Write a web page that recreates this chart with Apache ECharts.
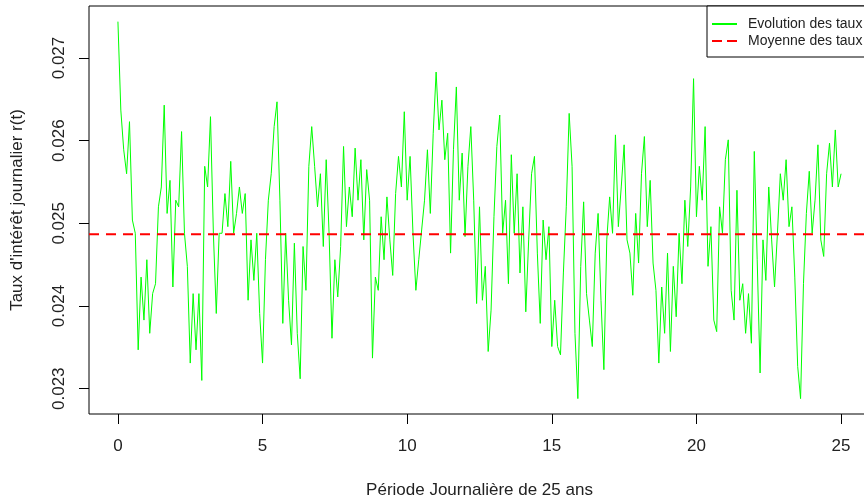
<!DOCTYPE html>
<html>
<head>
<meta charset="utf-8">
<title>Taux d'intérêt journalier</title>
<script src="https://cdn.jsdelivr.net/npm/echarts@6/dist/echarts.min.js"></script>
<style>
	html, body { margin: 0; padding: 0; background: #fff; }
	#chart { width: 864px; height: 501px; }
</style>
</head>
<body>
<div id="chart"></div>
<script type="text/javascript">
// taux, un point tous les 0.1 an (0 -> 25 ans)
var rate = [
	0.02744, 0.02637, 0.02589, 0.02560, 0.02623, 0.02504, 0.02488, 0.02347, 0.02435, 0.02383,
	0.02456, 0.02367, 0.02415, 0.02427, 0.02520, 0.02544, 0.02643, 0.02512, 0.02552, 0.02423,
	0.02528, 0.02520, 0.02611, 0.02488, 0.02448, 0.02331, 0.02415, 0.02347, 0.02415, 0.02310,
	0.02569, 0.02544, 0.02629, 0.02488, 0.02391, 0.02488, 0.02488, 0.02536, 0.02496, 0.02575,
	0.02488, 0.02512, 0.02544, 0.02512, 0.02536, 0.02407, 0.02480, 0.02431, 0.02488, 0.02391,
	0.02331, 0.02456, 0.02528, 0.02560, 0.02617, 0.02647, 0.02528, 0.02379, 0.02488, 0.02407,
	0.02353, 0.02476, 0.02367, 0.02312, 0.02472, 0.02419, 0.02569, 0.02617, 0.02569, 0.02520,
	0.02560, 0.02472, 0.02577, 0.02488, 0.02361, 0.02456, 0.02411, 0.02472, 0.02593, 0.02496,
	0.02544, 0.02508, 0.02591, 0.02528, 0.02577, 0.02480, 0.02565, 0.02528, 0.02337, 0.02435,
	0.02419, 0.02508, 0.02456, 0.02532, 0.02480, 0.02437, 0.02536, 0.02581, 0.02544, 0.02635,
	0.02528, 0.02581, 0.02488, 0.02419, 0.02456, 0.02492, 0.02528, 0.02589, 0.02512, 0.02609,
	0.02683, 0.02613, 0.02649, 0.02577, 0.02609, 0.02464, 0.02589, 0.02665, 0.02528, 0.02585,
	0.02484, 0.02569, 0.02617, 0.02528, 0.02403, 0.02520, 0.02407, 0.02448, 0.02345, 0.02395,
	0.02508, 0.02593, 0.02631, 0.02488, 0.02528, 0.02427, 0.02583, 0.02488, 0.02560, 0.02440,
	0.02520, 0.02393, 0.02480, 0.02560, 0.02581, 0.02464, 0.02379, 0.02504, 0.02456, 0.02496,
	0.02351, 0.02407, 0.02351, 0.02341, 0.02440, 0.02520, 0.02633, 0.02569, 0.02367, 0.02288,
	0.02448, 0.02526, 0.02415, 0.02383, 0.02351, 0.02464, 0.02512, 0.02407, 0.02323, 0.02480,
	0.02532, 0.02488, 0.02607, 0.02496, 0.02544, 0.02595, 0.02480, 0.02464, 0.02413, 0.02512,
	0.02452, 0.02560, 0.02605, 0.02496, 0.02552, 0.02452, 0.02419, 0.02331, 0.02423, 0.02367,
	0.02464, 0.02345, 0.02448, 0.02387, 0.02488, 0.02427, 0.02528, 0.02472, 0.02544, 0.02675,
	0.02508, 0.02569, 0.02528, 0.02617, 0.02448, 0.02496, 0.02383, 0.02369, 0.02520, 0.02488,
	0.02577, 0.02601, 0.02419, 0.02383, 0.02540, 0.02407, 0.02427, 0.02367, 0.02415, 0.02355,
	0.02587, 0.02456, 0.02319, 0.02480, 0.02431, 0.02544, 0.02480, 0.02423, 0.02488, 0.02560,
	0.02528, 0.02577, 0.02496, 0.02520, 0.02435, 0.02327, 0.02288, 0.02427, 0.02512, 0.02563,
	0.02488, 0.02528, 0.02595, 0.02480, 0.02460, 0.02560, 0.02597, 0.02544, 0.02613, 0.02544,
	0.02560
];
var step = 0.1;           // pas de temps (années)
var meanRate = 0.024867;  // moyenne des taux (ligne rouge)
var xTicks = [0, 5, 10, 15, 20, 25];
var yTicks = [0.023, 0.024, 0.025, 0.026, 0.027];
var xMin = -1, xMax = 26;
var yMin = 0.022694, yMax = 0.027629;

var font = 'Liberation Sans, Arial, sans-serif';
var ink = '#222';

var points = rate.map(function (v, i) {
	return [+(i * step).toFixed(2), v];
});

var option = {
	animation: false,
	backgroundColor: '#fff',
	grid: {
		left: 89,
		top: 6,
		right: -6,
		bottom: 87,
		outerBoundsMode: 'none',
		show: true,
		borderColor: '#000',
		borderWidth: 1
	},
	legend: {
		orient: 'vertical',
		left: 707,
		top: 6,
		padding: [11, 6, 9, 5],
		itemGap: 3,
		itemWidth: 25,
		itemHeight: 2,
		backgroundColor: '#fff',
		borderColor: '#000',
		borderWidth: 1,
		borderRadius: 0,
		textStyle: {
			fontFamily: font,
			fontSize: 14,
			color: ink,
			padding: [0, 0, 0, 6]
		},
		data: [
			{ name: 'Evolution des taux', icon: 'rect' },
			// trait rouge en tirets
			{ name: 'Moyenne des taux', icon: 'path://M0,0H10V2H0ZM15,0H25V2H15Z' }
		]
	},
	xAxis: {
		type: 'value',
		min: xMin,
		max: xMax,
		name: 'Période Journalière de 25 ans',
		nameLocation: 'middle',
		nameGap: 68,
		nameTextStyle: { fontFamily: font, fontSize: 17, color: ink },
		axisLine: { show: false, onZero: false },
		axisTick: { show: true, inside: false, length: 10, customValues: xTicks, lineStyle: { color: '#000' } },
		axisLabel: { customValues: xTicks, margin: 24, fontFamily: font, fontSize: 17, color: ink },
		splitLine: { show: false }
	},
	yAxis: {
		type: 'value',
		min: yMin,
		max: yMax,
		name: "Taux d'intérêt journalier r(t)",
		nameLocation: 'middle',
		nameGap: 63,
		nameRotate: 90,
		nameTextStyle: { fontFamily: font, fontSize: 17, color: ink },
		axisLine: { show: false, onZero: false },
		axisTick: { show: true, inside: false, length: 10, customValues: yTicks, lineStyle: { color: '#000' } },
		axisLabel: { customValues: yTicks, rotate: 90, margin: 21, fontFamily: font, fontSize: 17, color: ink },
		splitLine: { show: false }
	},
	series: [
		{
			name: 'Evolution des taux',
			type: 'line',
			symbol: 'none',
			lineStyle: { color: '#00ff00', width: 1 },
			itemStyle: { color: '#00ff00' },
			data: points
		},
		{
			name: 'Moyenne des taux',
			type: 'line',
			symbol: 'none',
			lineStyle: { color: '#ff0000', width: 2, type: [10, 7] },
			itemStyle: { color: '#ff0000' },
			data: [[xMin, meanRate], [xMax, meanRate]]
		}
	]
};

var myChart = echarts.init(document.getElementById('chart'), null, { renderer: 'canvas' });
myChart.setOption(option);
</script>
</body>
</html>
